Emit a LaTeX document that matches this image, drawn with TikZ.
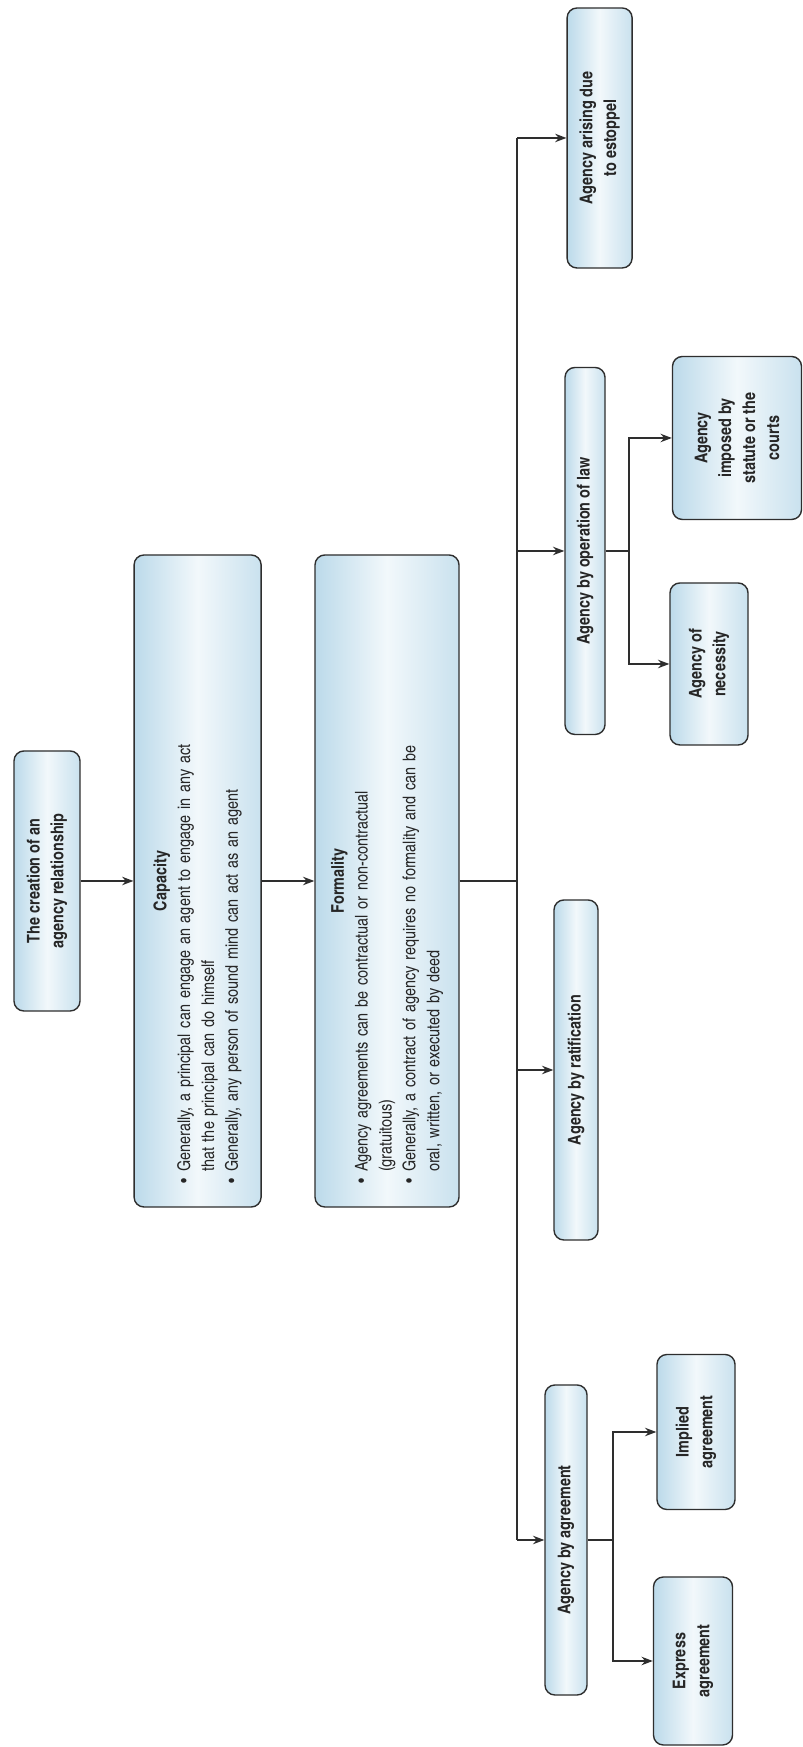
\documentclass[tikz,border=0pt]{standalone}
\usepackage{fontspec}
\IfFontExistsTF{TeX Gyre Heros Cn}{%
    \setmainfont{TeX Gyre Heros Cn}
    \newcommand{\tamanho}{\fontsize{12.5}{17}\selectfont}}{%
    \setmainfont{PT Sans}[FakeStretch=0.78]
    \newcommand{\tamanho}{\fontsize{13.5}{17}\selectfont}}
\usepackage{enumitem}
\usetikzlibrary{arrows.meta}

\definecolor{caixaazul}{HTML}{BCDAEA}
\definecolor{caixaclara}{HTML}{F2F8FB}
\definecolor{traco}{HTML}{2E2E2E}

\begin{document}
\begin{tikzpicture}[
        >={Stealth[length=8pt,width=6pt]},
        caixa/.style={draw=traco, line width=1pt, rounded corners=7pt, rotate=90,
            left color=caixaazul, right color=caixaazul!80, middle color=caixaclara,
            align=center, text=black!85, inner sep=3pt,
            font=\tamanho\bfseries},
        lista/.style={caixa, align=left, font=\tamanho},
        linha/.style={draw=traco, line width=1pt},
        seta/.style={linha, ->}
    ]
        % Fundo
        \fill[white] (0,0) rectangle (20.05,43.675);

        % Caixa inicial
        \node[caixa, minimum width=6.5cm, minimum height=1.65cm] (criacao) at (1.175, 21.65) {The creation of an\\agency relationship};

        % Capacidade e formalidade
        \node[lista, minimum width=16.3cm, minimum height=3.175cm, text width=15.6cm] (capacidade) at (4.94, 21.65) {%
            {\centering\bfseries Capacity\par}
            \begin{itemize}[leftmargin=1.2em, label=\textbullet, nosep]
                \item Generally, a principal can engage an agent to engage in any act\\that the principal can do himself
                \item Generally, any person of sound mind can act as an agent
            \end{itemize}};
        \node[lista, minimum width=16.3cm, minimum height=3.6cm, text width=15.6cm] (formalidade) at (9.675, 21.65) {%
            {\centering\bfseries Formality\par}
            \begin{itemize}[leftmargin=1.2em, label=\textbullet, nosep]
                \item Agency agreements can be contractual or non-contractual\\(gratuitous)
                \item Generally, a contract of agency requires no formality and can be\\oral, written, or executed by deed
            \end{itemize}};

        % Tipos de agencia
        \node[caixa, minimum width=6.5cm, minimum height=1.625cm] (estoppel) at (14.99, 40.225) {Agency arising due\\to estoppel};
        \node[caixa, minimum width=9.175cm, minimum height=1cm] (lei) at (14.625, 29.9) {Agency by operation of law};
        \node[caixa, minimum width=8.5cm, minimum height=1.1cm] (ratificacao) at (14.4, 16.925) {Agency by ratification};
        \node[caixa, minimum width=7.75cm, minimum height=1.05cm] (acordo) at (14.15, 5.175) {Agency by agreement};

        % Subtipos
        \node[caixa, minimum width=4.075cm, minimum height=3.225cm] (estatuto) at (18.425, 32.725) {Agency\\imposed by\\statute or the\\courts};
        \node[caixa, minimum width=4.05cm, minimum height=1.95cm] (necessidade) at (17.725, 27.075) {Agency of\\necessity};
        \node[caixa, minimum width=3.875cm, minimum height=1.95cm] (implicito) at (17.4, 7.875) {Implied\\agreement};
        \node[caixa, minimum width=4.2cm, minimum height=1.975cm] (expresso) at (17.325, 2.15) {Express\\agreement};

        % Pontos de ramificacao
        \coordinate (topo) at (12.925, 40.225);
        \coordinate (base) at (12.925, 5.175);
        \coordinate (forklei) at (15.725, 29.9);
        \coordinate (forkacordo) at (15.325, 5.175);

        % Setas
        \draw[seta] (criacao) -- (capacidade);
        \draw[seta] (capacidade) -- (formalidade);
        \draw[linha] (formalidade) -- (formalidade -| topo);
        \draw[linha] (topo) -- (base);
        \draw[seta] (topo) -- (estoppel);
        \draw[seta] (topo |- lei) -- (lei);
        \draw[seta] (topo |- ratificacao) -- (ratificacao);
        \draw[seta] (base) -- (acordo);
        \draw[linha] (lei) -- (forklei);
        \draw[seta] (forklei) |- (estatuto);
        \draw[seta] (forklei) |- (necessidade);
        \draw[linha] (acordo) -- (forkacordo);
        \draw[seta] (forkacordo) |- (implicito);
        \draw[seta] (forkacordo) |- (expresso);
    \end{tikzpicture}
\end{document}
